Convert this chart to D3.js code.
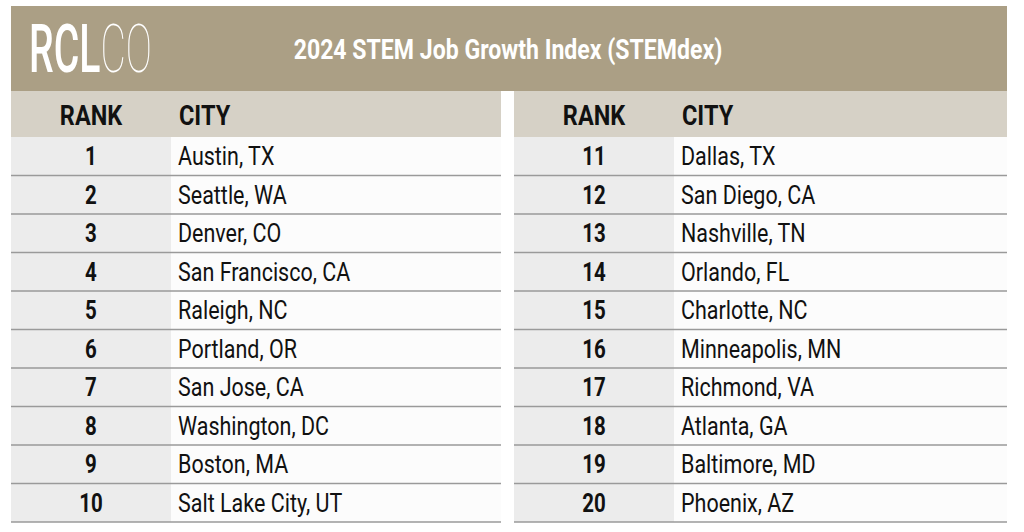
<!DOCTYPE html>
<html><head><meta charset="utf-8">
<script src="https://cdn.jsdelivr.net/npm/d3@7"></script>
<style>html,body{margin:0;padding:0;background:#fff;}svg{display:block;}</style>
</head><body><svg id="c" width="1024" height="532"></svg>
<script>
const title = "2024 STEM Job Growth Index (STEMdex)";
const headers = ["RANK", "CITY"];
const ranksLeft = [1,2,3,4,5,6,7,8,9,10];
const citiesLeft = ["Austin, TX","Seattle, WA","Denver, CO","San Francisco, CA","Raleigh, NC","Portland, OR","San Jose, CA","Washington, DC","Boston, MA","Salt Lake City, UT"];
const ranksRight = [11,12,13,14,15,16,17,18,19,20];
const citiesRight = ["Dallas, TX","San Diego, CA","Nashville, TN","Orlando, FL","Charlotte, NC","Minneapolis, MN","Richmond, VA","Atlanta, GA","Baltimore, MD","Phoenix, AZ"];

const svg = d3.select("#c");
const FONT = "Roboto, 'Liberation Sans', sans-serif";

// header band
svg.append("rect").attr("x",11).attr("y",6).attr("width",996).attr("height",85).attr("fill","#ab9f85");

// logo
const logo = svg.append("g").attr("transform","translate(29,72) scale(0.585,1)");
const lt = logo.append("text").attr("font-family",FONT).attr("font-size",67).attr("fill","#fff");
lt.append("tspan").attr("font-weight",500).text("RCL");
lt.append("tspan").attr("font-weight",100).text("CO");

// title
svg.append("g").attr("transform","translate(508,59) scale(0.855,1)")
  .append("text").attr("text-anchor","middle").attr("font-family",FONT).attr("font-weight",700)
  .attr("font-size",27).attr("fill","#fff").text(title);

function table(x0, width, ranks, cities){
  const g = svg.append("g");
  const rankW = 160;
  const y = d3.scaleBand().domain(ranks).range([137, 522]).padding(0);
  g.append("rect").attr("x",x0).attr("y",91).attr("width",width).attr("height",46).attr("fill","#d6d1c6");
  g.append("rect").attr("x",x0).attr("y",137).attr("width",rankW).attr("height",385).attr("fill","#ececec");
  g.append("rect").attr("x",x0+rankW).attr("y",137).attr("width",width-rankW).attr("height",385).attr("fill","#fcfcfc");
  g.append("g").attr("transform",`translate(${x0+rankW/2},125) scale(0.87,1)`)
    .append("text").attr("text-anchor","middle").attr("font-family",FONT).attr("font-weight",700)
    .attr("font-size",27).attr("fill","#111").text(headers[0]);
  g.append("g").attr("transform",`translate(${x0+rankW+8},125) scale(0.87,1)`)
    .append("text").attr("font-family",FONT).attr("font-weight",700)
    .attr("font-size",27).attr("fill","#111").text(headers[1]);
  const rows = g.selectAll("g.row").data(ranks.map((r,i)=>({r, c:cities[i]}))).join("g").attr("class","row");
  rows.append("line").attr("x1",x0).attr("x2",x0+width)
    .attr("y1",d=>y(d.r)+y.bandwidth()).attr("y2",d=>y(d.r)+y.bandwidth())
    .attr("stroke","#9a9a9a").attr("stroke-width",1.6);
  rows.append("g").attr("transform",d=>`translate(${x0+rankW/2},${y(d.r)+y.bandwidth()/2+9}) scale(0.82,1)`)
    .append("text").attr("text-anchor","middle").attr("font-family",FONT).attr("font-weight",700)
    .attr("font-size",25).attr("fill","#111").text(d=>d.r);
  rows.append("g").attr("transform",d=>`translate(${x0+rankW+7},${y(d.r)+y.bandwidth()/2+9}) scale(0.86,1)`)
    .append("text").attr("font-family",FONT).attr("font-weight",400)
    .attr("font-size",25).attr("fill","#111").text(d=>d.c);
}
table(11, 490, ranksLeft, citiesLeft);
table(514, 493, ranksRight, citiesRight);
</script></body></html>
